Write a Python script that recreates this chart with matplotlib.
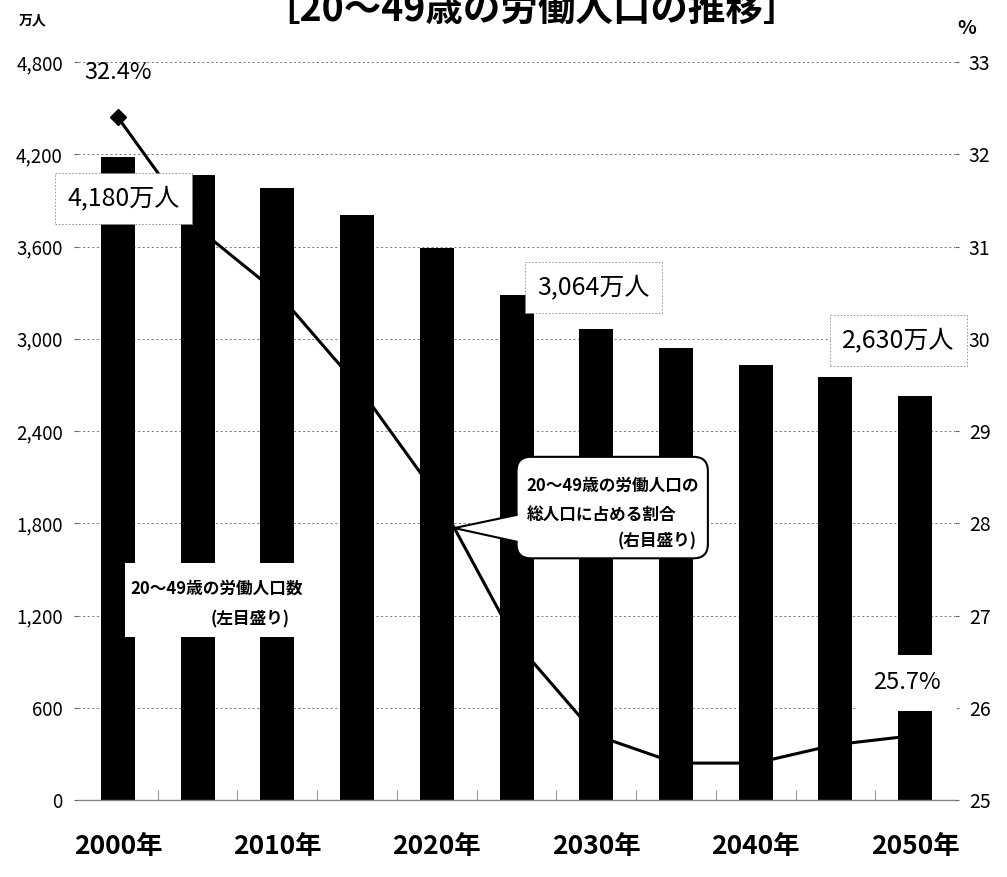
import matplotlib
matplotlib.use('Agg')
import matplotlib.pyplot as plt
import numpy as np
from matplotlib.patches import FancyBboxPatch, Polygon, Rectangle
from matplotlib.ticker import FuncFormatter

JP = ['Noto Sans CJK JP', 'DejaVu Sans']
plt.rcParams['font.family'] = JP

years = [2000, 2005, 2010, 2015, 2020, 2025, 2030, 2035, 2040, 2045, 2050]
workers = [4180, 4065, 3980, 3805, 3590, 3285, 3064, 2940, 2830, 2750, 2630]   # 万人
share = [32.4, 31.2, 30.5, 29.5, 28.3, 26.7, 25.7, 25.4, 25.4, 25.6, 25.7]     # %
decades = [2000, 2010, 2020, 2030, 2040, 2050]
left_ticks = [0, 600, 1200, 1800, 2400, 3000, 3600, 4200, 4800]
right_ticks = [25, 26, 27, 28, 29, 30, 31, 32, 33]

fig = plt.figure(figsize=(10.07, 8.77), dpi=100)
ax1 = fig.add_axes([0.0775, 0.0878, 0.8709, 0.8415])
ax2 = ax1.twinx()

# ---- bars: working population (left scale) ----
ax1.bar(years, workers, width=2.13, color='black', zorder=2)
ax1.set_xlim(1997.5, 2052.5)
ax1.set_ylim(0, 4800)
ax1.set_yticks(left_ticks)
ax1.yaxis.set_major_formatter(FuncFormatter(lambda v, p: f'{v:,.0f}'))
ax1.set_xticks(decades)
ax1.set_xticklabels([f'{y}年' for y in decades], fontsize=19, fontweight='bold')
mids = [y + 2.5 for y in years[:-1]]
ax1.set_xticks(mids, minor=True)
ax1.tick_params(axis='x', which='major', length=0, pad=24)
ax1.tick_params(axis='x', which='minor', direction='in', length=7,
                width=0.8, color='#999999')
ax1.tick_params(axis='y', length=3, width=0.8, color='#666666',
                labelsize=13.5, pad=8)
ax1.set_axisbelow(True)
ax1.yaxis.grid(True, linestyle=(0, (2.5, 3)), color='#666666', linewidth=0.6)
for s in ['left', 'right', 'top']:
    ax1.spines[s].set_visible(False)
ax1.spines['bottom'].set_color('#888888')
ax1.spines['bottom'].set_linewidth(1.0)

# ---- line: share of total population (right scale) ----
ax2.plot(years, share, color='black', linewidth=2.2, marker='D',
         markevery=[0], markersize=8, zorder=3)
ax2.set_ylim(25, 33)
ax2.set_yticks(right_ticks)
ax2.tick_params(axis='y', length=3, width=0.8, color='#666666',
                labelsize=14, pad=7)
for s in ax2.spines.values():
    s.set_visible(False)

dashed_box = dict(boxstyle='square,pad=0.5', fc='white', ec='#888888',
                  lw=0.6, ls=(0, (2, 2)))
plain_box = dict(boxstyle='square,pad=0.7', fc='white', ec='none')

# value labels
ax2.annotate(f'{share[0]}%', xy=(years[0], share[0]), xytext=(0, 32),
             textcoords='offset points', ha='center', va='center',
             fontsize=17, zorder=6)
ax2.annotate(f'{workers[0]:,}万人', xy=(years[0], workers[0]),
             xycoords=ax1.transData, xytext=(4, -29.5),
             textcoords='offset points', ha='center', va='center',
             fontsize=18, bbox=dashed_box, zorder=6)
ax2.annotate(f'{workers[6]:,}万人', xy=(years[6], workers[6]),
             xycoords=ax1.transData, xytext=(-2, 30),
             textcoords='offset points', ha='center', va='center',
             fontsize=18, bbox=dashed_box, zorder=6)
ax2.annotate(f'{workers[-1]:,}万人', xy=(years[-1], workers[-1]),
             xycoords=ax1.transData, xytext=(-12, 40),
             textcoords='offset points', ha='center', va='center',
             fontsize=18, bbox=dashed_box, zorder=6)
ax2.annotate(f'{share[-1]}%', xy=(years[-1], share[-1]), xytext=(-6, 38),
             textcoords='offset points', ha='center', va='center',
             fontsize=17, bbox=plain_box, zorder=6)

# legend note for the bars (plain white panel)
ax2.add_patch(Rectangle((0.0536, 0.2209), 0.2452, 0.1002, transform=ax2.transAxes,
                        fc='white', ec='none', zorder=4))
ax2.text(0.0593, 0.286, '20～49歳の労働人口数', transform=ax2.transAxes,
         ha='left', va='center', fontsize=12, fontweight='bold', zorder=5)
ax2.text(0.2417, 0.244, '(左目盛り)', transform=ax2.transAxes,
         ha='right', va='center', fontsize=12, fontweight='bold', zorder=5)

# speech-bubble note for the line
bx0, bx1, by0, by1 = 2025.0, 2037.0, 27.62, 28.72
bubble = FancyBboxPatch((bx0, by0), bx1 - bx0, by1 - by0,
                        boxstyle='round,pad=0,rounding_size=0.9',
                        mutation_aspect=0.173, fc='white', ec='black',
                        lw=1.5, zorder=5)
ax2.add_patch(bubble)
tip_x = 2021.1
tip_y = np.interp(tip_x, years, share)
base_top, base_bot = 28.09, 27.80
ax2.add_patch(Polygon([(bx0 + 0.2, base_top), (bx0, base_top), (tip_x, tip_y),
                       (bx0, base_bot), (bx0 + 0.2, base_bot)],
                      closed=True, fc='white', ec='none', zorder=6))
ax2.plot([bx0, tip_x, bx0], [base_top, tip_y, base_bot], color='black',
         lw=1.5, zorder=6, solid_joinstyle='miter')
ax2.text(bx0 + 0.62, 28.41, '20～49歳の労働人口の', ha='left', va='center',
         fontsize=12, fontweight='bold', zorder=7)
ax2.text(bx0 + 0.62, 28.09, '総人口に占める割合', ha='left', va='center',
         fontsize=12, fontweight='bold', zorder=7)
ax2.text(bx1 - 0.7, 27.80, '(右目盛り)', ha='right', va='center',
         fontsize=12, fontweight='bold', zorder=7)

# titles and units
fig.text(0.528, 1 - 29 / 877, '［20～49歳の労働人口の推移］', ha='center',
         va='bottom', fontsize=27, fontweight='bold')
fig.text(33 / 1007, 1 - 20 / 877, '万人', ha='center', va='center',
         fontsize=10, fontweight='bold')
fig.text(967 / 1007, 1 - 28 / 877, '%', ha='center', va='center',
         fontsize=14, fontweight='bold')

fig.savefig('out.png', dpi=100, facecolor='white')
